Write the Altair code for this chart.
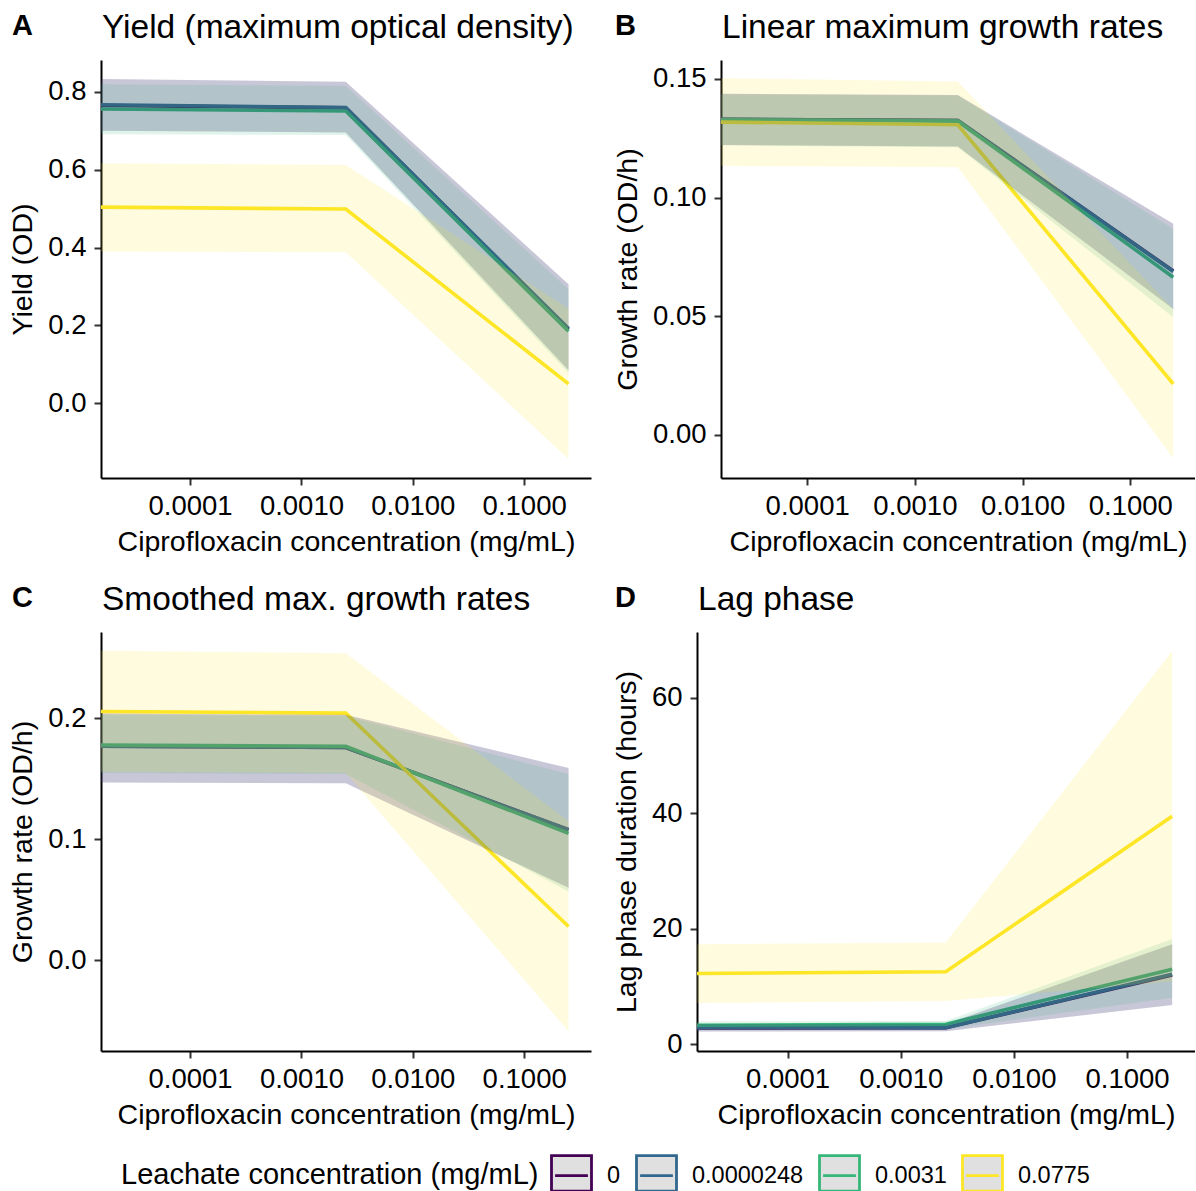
import altair as alt
import pandas as pd

# ---------------- data ----------------
LEACHATE = ["0", "0.0000248", "0.0031", "0.0775"]
COLORS = ["#440154", "#31688E", "#35B779", "#FDE725"]
CIPRO = [0.0, 0.0025, 0.25]          # mg/mL; 0 is drawn at the left edge (like -Inf)
X_MIN, X_MAX = 10 ** -4.8, 10 ** -0.4
X_TICKS = [0.0001, 0.001, 0.01, 0.1]

# Panel A: yield (OD)
YIELD_MEAN = [[0.765, 0.759, 0.190], [0.767, 0.760, 0.192], [0.756, 0.751, 0.185], [0.504, 0.499, 0.050]]
YIELD_LO = [[0.700, 0.696, 0.085], [0.700, 0.696, 0.085], [0.691, 0.689, 0.078], [0.390, 0.388, -0.143]]
YIELD_HI = [[0.833, 0.826, 0.306], [0.833, 0.826, 0.306], [0.820, 0.815, 0.293], [0.617, 0.612, 0.243]]

# Panel B: linear max growth rate (OD/h)
LIN_MEAN = [[0.1330, 0.1325, 0.0690], [0.1330, 0.1325, 0.0688], [0.1328, 0.1322, 0.0664], [0.1318, 0.1307, 0.0214]]
LIN_LO = [[0.1222, 0.1215, 0.0530], [0.1222, 0.1215, 0.0530], [0.1220, 0.1212, 0.0495], [0.1134, 0.1128, -0.0100]]
LIN_HI = [[0.1438, 0.1432, 0.0889], [0.1438, 0.1432, 0.0889], [0.1436, 0.1430, 0.0868], [0.1503, 0.1489, 0.0530]]

# Panel C: smoothed max growth rate (OD/h)
SM_MEAN = [[0.177, 0.176, 0.108], [0.177, 0.176, 0.108], [0.178, 0.177, 0.105], [0.2058, 0.2044, 0.028]]
SM_LO = [[0.147, 0.1465, 0.060], [0.147, 0.1465, 0.060], [0.155, 0.154, 0.057], [0.156, 0.155, -0.0587]]
SM_HI = [[0.204, 0.203, 0.159], [0.204, 0.203, 0.159], [0.203, 0.202, 0.154], [0.256, 0.254, 0.115]]

# Panel D: lag phase duration (hours)
LAG_MEAN = [[2.80, 2.85, 12.0], [2.90, 2.86, 12.1], [3.27, 3.45, 13.0], [12.24, 12.55, 39.5]]
LAG_LO = [[2.20, 2.25, 6.8], [2.20, 2.25, 6.8], [2.50, 2.60, 8.05], [7.13, 7.48, 10.9]]
LAG_HI = [[3.50, 3.50, 17.3], [3.50, 3.50, 17.3], [3.95, 4.00, 18.2], [17.3, 17.6, 68.1]]

FONT = "Liberation Sans"


def make_df(mean, lo, hi):
    rows = []
    for g, m, l, h in zip(LEACHATE, mean, lo, hi):
        for c, mv, lv, hv in zip(CIPRO, m, l, h):
            rows.append({"leachate": g, "cipro": c,
                         "x": c if c > 0 else X_MIN,
                         "mean": mv, "lo": lv, "hi": hv})
    return pd.DataFrame(rows)


LEGEND = alt.Legend(
    title="Leachate concentration (mg/mL)",
    orient="none", legendX=20, legendY=1094,
    direction="horizontal", titleOrient="left",
    titleAnchor="middle", titleBaseline="middle",
    titleFontSize=29, titleFontWeight="normal", titleColor="black", titleFont=FONT,
    titlePadding=11, titleLimit=800,
    labelFontSize=23.5, labelColor="black", labelFont=FONT, labelOffset=14,
    columnPadding=9,
    symbolType="M-1,-1L1,-1L1,0.78L-1,0.78Z M-0.82,0L0.82,0",
    symbolSize=1600, symbolStrokeWidth=2.8, symbolFillColor="#e0e0e0",
    symbolOpacity=1,
)


def panel(mean, lo, hi, title, ytitle, ydomain, yticks, yfmt, tag, tag_x, w, h):
    df = make_df(mean, lo, hi)
    xenc = alt.X("x:Q",
                 scale=alt.Scale(type="log", domain=[X_MIN, X_MAX], nice=False),
                 axis=alt.Axis(values=X_TICKS, format=".4f",
                               title="Ciprofloxacin concentration (mg/mL)"))
    yscale = alt.Scale(domain=ydomain, nice=False, zero=False)
    lines = alt.Chart(df).mark_line(strokeWidth=3.6).encode(
        x=xenc,
        y=alt.Y("mean:Q", scale=yscale,
                axis=alt.Axis(values=yticks, format=yfmt, title=ytitle)),
        stroke=alt.Stroke("leachate:N", scale=alt.Scale(domain=LEACHATE, range=COLORS),
                          legend=LEGEND),
    )
    ribbons = [
        alt.Chart(df).transform_filter(alt.datum.leachate == g)
        .mark_area(color=col, fillOpacity=0.15)
        .encode(x=alt.X("x:Q"), y=alt.Y("lo:Q", stack=None), y2="hi:Q")
        for g, col in zip(LEACHATE, COLORS)
    ]
    lab = pd.DataFrame({"t": [tag], "title": [title]})
    tag_mark = alt.Chart(lab).mark_text(
        align="left", baseline="alphabetic", fontSize=29, fontWeight="bold",
        font=FONT, color="black",
    ).encode(text="t:N", x=alt.value(tag_x), y=alt.value(-25.3))
    title_mark = alt.Chart(lab).mark_text(
        align="left", baseline="alphabetic", fontSize=33.5, fontWeight="normal",
        font=FONT, color="black",
    ).encode(text="title:N", x=alt.value(1), y=alt.value(-21.7))
    return alt.layer(lines, *ribbons, tag_mark, title_mark).properties(width=w, height=h)


A = panel(YIELD_MEAN, YIELD_LO, YIELD_HI, "Yield (maximum optical density)", "Yield (OD)",
          [-0.192, 0.882], [0.0, 0.2, 0.4, 0.6, 0.8], ".1f", "A", -89, 490, 418)
B = panel(LIN_MEAN, LIN_LO, LIN_HI, "Linear maximum growth rates", "Growth rate (OD/h)",
          [-0.0183, 0.158], [0.0, 0.05, 0.10, 0.15], ".2f", "B", -106, 474, 418)
C = panel(SM_MEAN, SM_LO, SM_HI, "Smoothed max. growth rates", "Growth rate (OD/h)",
          [-0.075, 0.2715], [0.0, 0.1, 0.2], ".1f", "C", -89, 490, 419)
D = panel(LAG_MEAN, LAG_LO, LAG_HI, "Lag phase", "Lag phase duration (hours)",
          [-1.18, 71.4], [0, 20, 40, 60], "d", "D", -82, 498, 419)

row1 = alt.hconcat(A, B, spacing=130, bounds="flush")
row2 = alt.hconcat(C, D, spacing=106, bounds="flush")

chart = alt.vconcat(row1, row2, spacing=27).resolve_scale(
    stroke="shared"
).properties(
    padding={"left": 8, "top": 11, "right": 0, "bottom": 0},
    background="white",
).configure(font=FONT).configure_view(stroke=None).configure_axis(
    grid=False, labelFont=FONT, titleFont=FONT,
    labelFontSize=27.5, titleFontSize=28.5, titleFontWeight="normal",
    labelColor="black", titleColor="black",
    domainColor="black", domainWidth=2,
    tickColor="#333333", tickWidth=2, tickSize=7,
).configure_axisX(labelPadding=7, titlePadding=8).configure_axisY(
    labelPadding=8, titlePadding=10
)

chart.save("out.html", embed_options={"renderer": "svg", "actions": False})
